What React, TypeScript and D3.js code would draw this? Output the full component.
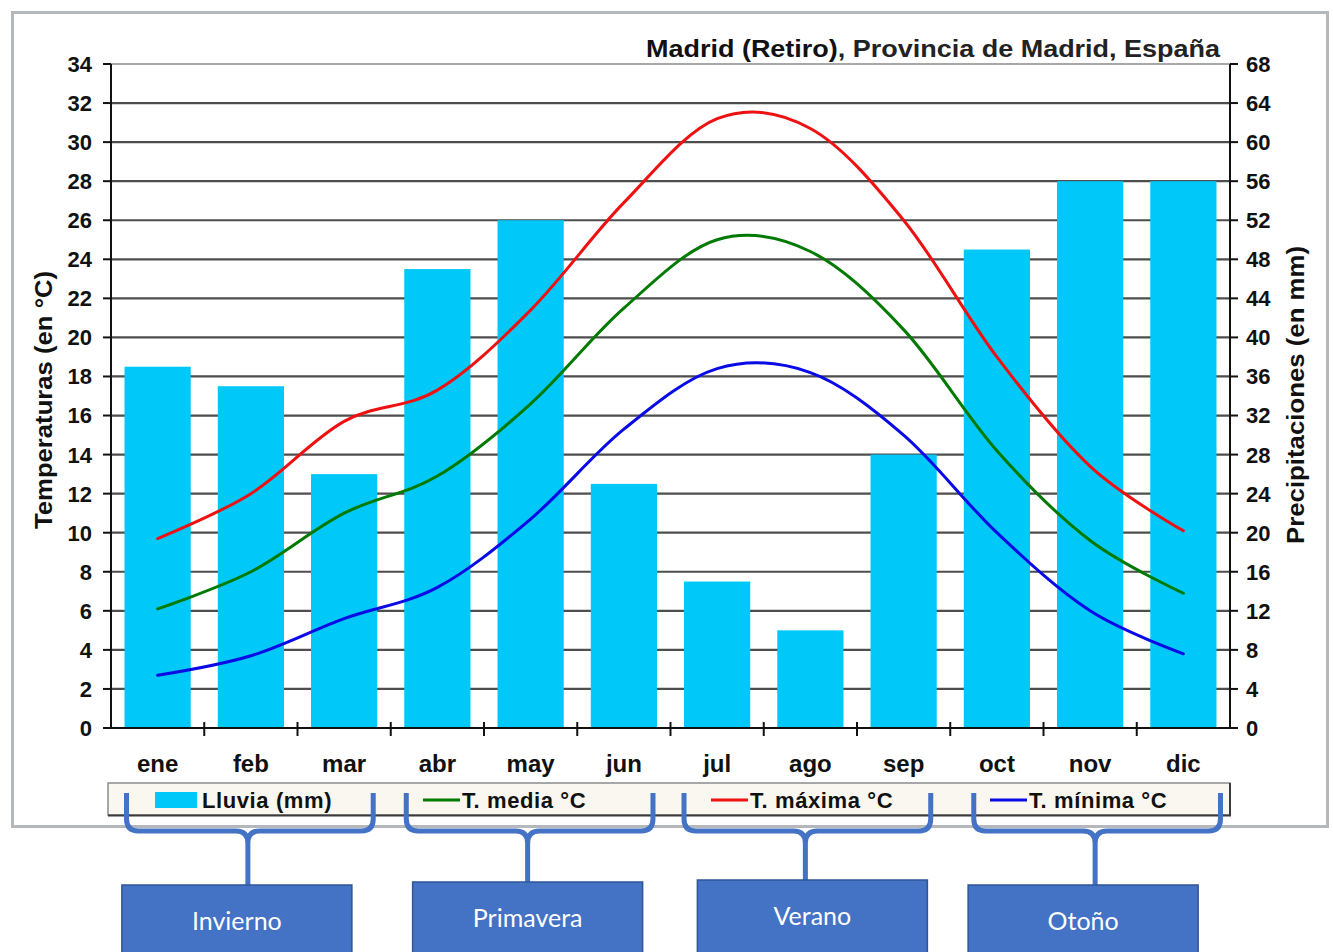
import { useEffect, useRef } from 'react';
import * as d3 from 'd3';
import React from 'react';

const months = ['ene', 'feb', 'mar', 'abr', 'may', 'jun', 'jul', 'ago', 'sep', 'oct', 'nov', 'dic'];
const rain = [37, 35, 26, 47, 52, 25, 15, 10, 28, 49, 56, 56];
const tMax = [9.7, 12.0, 15.7, 17.3, 21.4, 26.9, 31.2, 30.7, 26.0, 19.0, 13.4, 10.1];
const tMed = [6.1, 8.0, 11.0, 12.9, 16.6, 21.5, 25.0, 24.4, 20.4, 14.2, 9.6, 6.9];
const tMin = [2.7, 3.7, 5.6, 7.2, 10.7, 15.3, 18.4, 18.2, 15.0, 10.0, 6.0, 3.8];

const tempTicks = d3.range(0, 35, 2);
const rainTicks = d3.range(0, 69, 4);

const legendItems = [
  { label: 'Lluvia (mm)', color: '#00c8f8', kind: 'bar' },
  { label: 'T. media °C', color: '#007a00', kind: 'line' },
  { label: 'T. máxima °C', color: '#ee1111', kind: 'line' },
  { label: 'T. mínima °C', color: '#0a0ae6', kind: 'line' },
];

const seasons = [
  { name: 'Invierno', from: 'ene', mid: 'feb', to: 'mar' },
  { name: 'Primavera', from: 'abr', mid: 'may', to: 'jun' },
  { name: 'Verano', from: 'jul', mid: 'ago', to: 'sep' },
  { name: 'Otoño', from: 'oct', mid: 'nov', to: 'dic' },
];

// hand-placed look of the annotation layer
const legendX = [155, 423, 711, 990];
const bracketShift = [0, 0, -2, 8];
const boxShift = [-11, 0, 7, -12];
const boxTop = [885, 882, 880, 885];

const W = 1333;
const H = 952;
const FONT = '"Liberation Sans", Arial, sans-serif';

const App = () => {
  const ref = useRef(null);

  useEffect(() => {
    const svg = d3.select(ref.current);
    svg.selectAll('*').remove();

    const left = 111, right = 1230, top = 64, bottom = 728;

    const x = d3.scaleBand().domain(months).range([left, right]).paddingInner(0.29).paddingOuter(0.145);
    const yT = d3.scaleLinear().domain([0, 34]).range([bottom, top]);
    const yR = d3.scaleLinear().domain([0, 68]).range([bottom, top]);
    const cx = (m) => x(m) + x.bandwidth() / 2;

    // outer frame
    svg.append('rect')
      .attr('x', 12.5).attr('y', 12.5)
      .attr('width', 1315).attr('height', 814)
      .attr('fill', '#fff')
      .attr('stroke', '#b4b8bc').attr('stroke-width', 3);

    // gridlines
    svg.append('g')
      .selectAll('line')
      .data(tempTicks.filter(d => d > 0))
      .enter().append('line')
      .attr('x1', left).attr('x2', right)
      .attr('y1', d => yT(d)).attr('y2', d => yT(d))
      .attr('stroke', d => (d === 34 ? '#a8a8a8' : '#4e4e4e'))
      .attr('stroke-width', 2.2);

    // bars
    svg.append('g')
      .selectAll('rect')
      .data(rain)
      .enter().append('rect')
      .attr('x', (d, i) => x(months[i]))
      .attr('width', x.bandwidth())
      .attr('y', d => yR(d))
      .attr('height', d => yR(0) - yR(d))
      .attr('fill', '#00c8f8');

    // temperature lines
    const line = d3.line()
      .x((d, i) => cx(months[i]))
      .y(d => yT(d))
      .curve(d3.curveCardinal.tension(0));

    [[tMed, '#007a00'], [tMax, '#ee1111'], [tMin, '#0a0ae6']].forEach(([vals, color]) => {
      svg.append('path')
        .datum(vals)
        .attr('fill', 'none')
        .attr('stroke', color)
        .attr('stroke-width', 3)
        .attr('stroke-linecap', 'round')
        .attr('d', line);
    });

    // axes
    const axes = svg.append('g').attr('stroke', '#111').attr('stroke-width', 2);
    axes.append('line').attr('x1', left).attr('x2', left).attr('y1', top).attr('y2', bottom);
    axes.append('line').attr('x1', right).attr('x2', right).attr('y1', top).attr('y2', bottom);
    axes.append('line').attr('x1', left).attr('x2', right).attr('y1', bottom).attr('y2', bottom);

    axes.selectAll('.tl').data(tempTicks).enter().append('line')
      .attr('x1', left - 8).attr('x2', left)
      .attr('y1', d => yT(d)).attr('y2', d => yT(d));
    axes.selectAll('.tr').data(rainTicks).enter().append('line')
      .attr('x1', right).attr('x2', right + 8)
      .attr('y1', d => yR(d)).attr('y2', d => yR(d));
    axes.selectAll('.tb').data(d3.range(1, months.length)).enter().append('line')
      .attr('x1', i => x(months[i]) - x.step() * x.paddingInner() / 2)
      .attr('x2', i => x(months[i]) - x.step() * x.paddingInner() / 2)
      .attr('y1', bottom - 6).attr('y2', bottom + 8);

    const labels = svg.append('g')
      .attr('font-family', FONT).attr('font-weight', 'bold')
      .attr('font-size', 22).attr('fill', '#111');

    labels.selectAll('.lt').data(tempTicks).enter().append('text')
      .attr('x', 92).attr('y', d => yT(d))
      .attr('dy', '0.36em').attr('text-anchor', 'end')
      .text(d => d);
    labels.selectAll('.rt').data(rainTicks).enter().append('text')
      .attr('x', 1246).attr('y', d => yR(d))
      .attr('dy', '0.36em').attr('text-anchor', 'start')
      .text(d => d);
    labels.selectAll('.mt').data(months).enter().append('text')
      .attr('x', d => cx(d)).attr('y', 763)
      .attr('dy', '0.36em').attr('text-anchor', 'middle')
      .attr('font-size', 24)
      .text(d => d);

    labels.append('text')
      .attr('transform', `translate(52,${(top + bottom) / 2 + 4}) rotate(-90)`)
      .attr('text-anchor', 'middle')
      .attr('font-size', 24)
      .attr('textLength', 258).attr('lengthAdjust', 'spacingAndGlyphs')
      .text('Temperaturas (en °C)');
    labels.append('text')
      .attr('transform', `translate(1304,${(top + bottom) / 2 - 1}) rotate(-90)`)
      .attr('text-anchor', 'middle')
      .attr('font-size', 24)
      .attr('textLength', 298).attr('lengthAdjust', 'spacingAndGlyphs')
      .text('Precipitaciones (en mm)');

    // title
    const title = svg.append('text')
      .attr('x', 1220).attr('y', 57)
      .attr('text-anchor', 'end')
      .attr('font-family', FONT).attr('font-size', 23).attr('fill', '#111')
      .attr('textLength', 574).attr('lengthAdjust', 'spacingAndGlyphs');
    title.append('tspan').attr('font-weight', 'bold').text('Madrid (Retiro)');
    title.append('tspan').attr('font-weight', 'bold').attr('fill', '#222').text(', Provincia de Madrid, España');

    // legend
    const lg = svg.append('g');
    lg.append('rect')
      .attr('x', 108).attr('y', 783).attr('width', 1122).attr('height', 32)
      .attr('fill', '#faf6f0').attr('stroke', '#8c8c8c').attr('stroke-width', 1.5);
    lg.append('path')
      .attr('d', 'M108,815.5 H1230 V783')
      .attr('fill', 'none').attr('stroke', '#3a3a3a').attr('stroke-width', 2);

    const item = lg.selectAll('.li').data(legendItems).enter().append('g')
      .attr('transform', (d, i) => `translate(${legendX[i]},800)`);
    item.each(function (d) {
      const g = d3.select(this);
      if (d.kind === 'bar') {
        g.append('rect').attr('x', 0).attr('y', -8).attr('width', 42).attr('height', 16).attr('fill', d.color);
      } else {
        g.append('line').attr('x1', 0).attr('x2', 37).attr('y1', 0).attr('y2', 0)
          .attr('stroke', d.color).attr('stroke-width', 3);
      }
      g.append('text')
        .attr('x', d.kind === 'bar' ? 47 : 39).attr('y', 0).attr('dy', '0.36em')
        .attr('font-family', FONT).attr('font-weight', 'bold').attr('font-size', 22)
        .attr('letter-spacing', 0.6)
        .attr('fill', '#111')
        .text(d.label);
    });

    // season brackets and boxes
    const blue = '#4472c4';
    const yTop = 793, yH = 831, r = 12;
    seasons.forEach((s, i) => {
      const sh = bracketShift[i];
      const xL = x(s.from) + 2 + sh;
      const xR = x(s.to) + x.bandwidth() - 4 + sh;
      const xC = cx(s.mid) - 3 + sh;
      const yB = boxTop[i];
      const d = `M${xL},${yTop} V${yH - r} Q${xL},${yH} ${xL + r},${yH} H${xC - r} Q${xC},${yH} ${xC},${yH + r} V${yB}` +
        ` M${xR},${yTop} V${yH - r} Q${xR},${yH} ${xR - r},${yH} H${xC + r} Q${xC},${yH} ${xC},${yH + r}`;
      svg.append('path').attr('d', d)
        .attr('fill', 'none').attr('stroke', blue).attr('stroke-width', 5)
        .attr('stroke-linejoin', 'round');

      const bx = xC + boxShift[i];
      svg.append('rect')
        .attr('x', bx - 115).attr('y', yB).attr('width', 230).attr('height', 80)
        .attr('fill', blue).attr('stroke', '#2f5597').attr('stroke-width', 1.5);
      svg.append('text')
        .attr('x', bx).attr('y', yB + 36).attr('dy', '0.35em')
        .attr('text-anchor', 'middle')
        .attr('font-family', 'Lato, "Open Sans", sans-serif').attr('font-size', 25)
        .attr('fill', '#fff')
        .text(s.name);
    });
  }, []);

  return (
    <svg ref={ref} width={W} height={H}
      style={{ position: 'absolute', left: 0, top: 0, background: '#fff' }} />
  );
};

export default App;
